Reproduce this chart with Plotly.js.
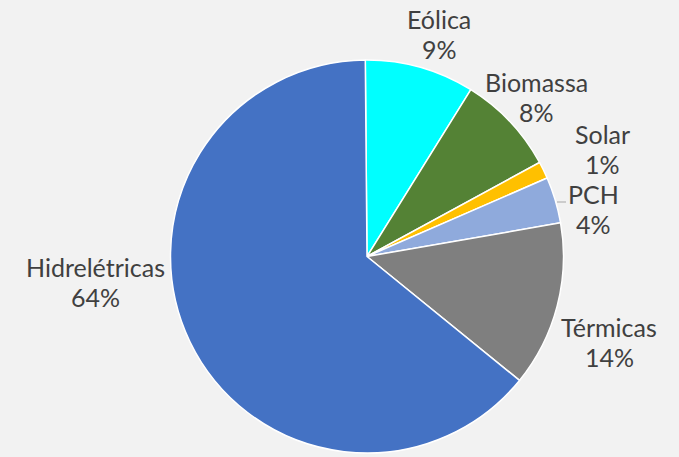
<!DOCTYPE html>
<html>
<head>
<meta charset="utf-8">
<script src="https://cdn.plot.ly/plotly-3.0.1.min.js"></script>
<style>html,body{margin:0;padding:0;background:#f2f2f2;}</style>
</head>
<body>
<div id="chart" style="width:679px;height:457px;"></div>
<script>
const labels = ["Eólica", "Biomassa", "Solar", "PCH", "Térmicas", "Hidrelétricas"];
const values = [9.0, 8.2, 1.4, 3.8, 13.6, 64.0];
const colors = ["#00ffff", "#548235", "#ffc000", "#8faadc", "#7f7f7f", "#4472c4"];

// label placement (pixel centres of name line; percent line sits below)
const labelX = [439, 536, 602, 593, 609, 95];
const labelY = [19, 82, 134, 194, 327, 267];
const lineGap = 30;

const W = 679, H = 457;
const M = {l: 0, r: 0, t: 60, b: 4};
const pw = W - M.l - M.r, ph = H - M.t - M.b;
const toPX = x => (x - M.l) / pw;
const toPY = y => 1 - (y - M.t) / ph;

const total = values.reduce((a, b) => a + b, 0);
const font = {family: "Lato, 'Open Sans', sans-serif", size: 25, color: "#404040"};

const annotations = [];
labels.forEach((lab, i) => {
  annotations.push({
    text: lab, x: toPX(labelX[i]), y: toPY(labelY[i]), xref: "paper", yref: "paper",
    xanchor: "center", yanchor: "middle", showarrow: false, font: font
  });
  annotations.push({
    text: Math.round(values[i] / total * 100) + "%", x: toPX(labelX[i]), y: toPY(labelY[i] + lineGap),
    xref: "paper", yref: "paper", xanchor: "center", yanchor: "middle", showarrow: false, font: font
  });
});

const trace = {
  type: "pie",
  labels: labels,
  values: values,
  sort: false,
  direction: "clockwise",
  rotation: -0.5,
  marker: {colors: colors, line: {color: "#ffffff", width: 1.5}},
  textinfo: "none",
  hoverinfo: "label+percent",
  automargin: false,
  domain: {x: [toPX(367 - ph / 2), toPX(367 + ph / 2)], y: [0, 1]}
};

const layout = {
  width: W,
  height: H,
  showlegend: false,
  paper_bgcolor: "#f2f2f2",
  plot_bgcolor: "#f2f2f2",
  margin: M,
  annotations: annotations,
  shapes: [{
    type: "line", xref: "paper", yref: "paper",
    x0: toPX(557), x1: toPX(566), y0: toPY(202), y1: toPY(202),
    line: {color: "#a6a6a6", width: 1}
  }]
};

Plotly.newPlot("chart", [trace], layout, {displayModeBar: false, staticPlot: true});
</script>
</body>
</html>
